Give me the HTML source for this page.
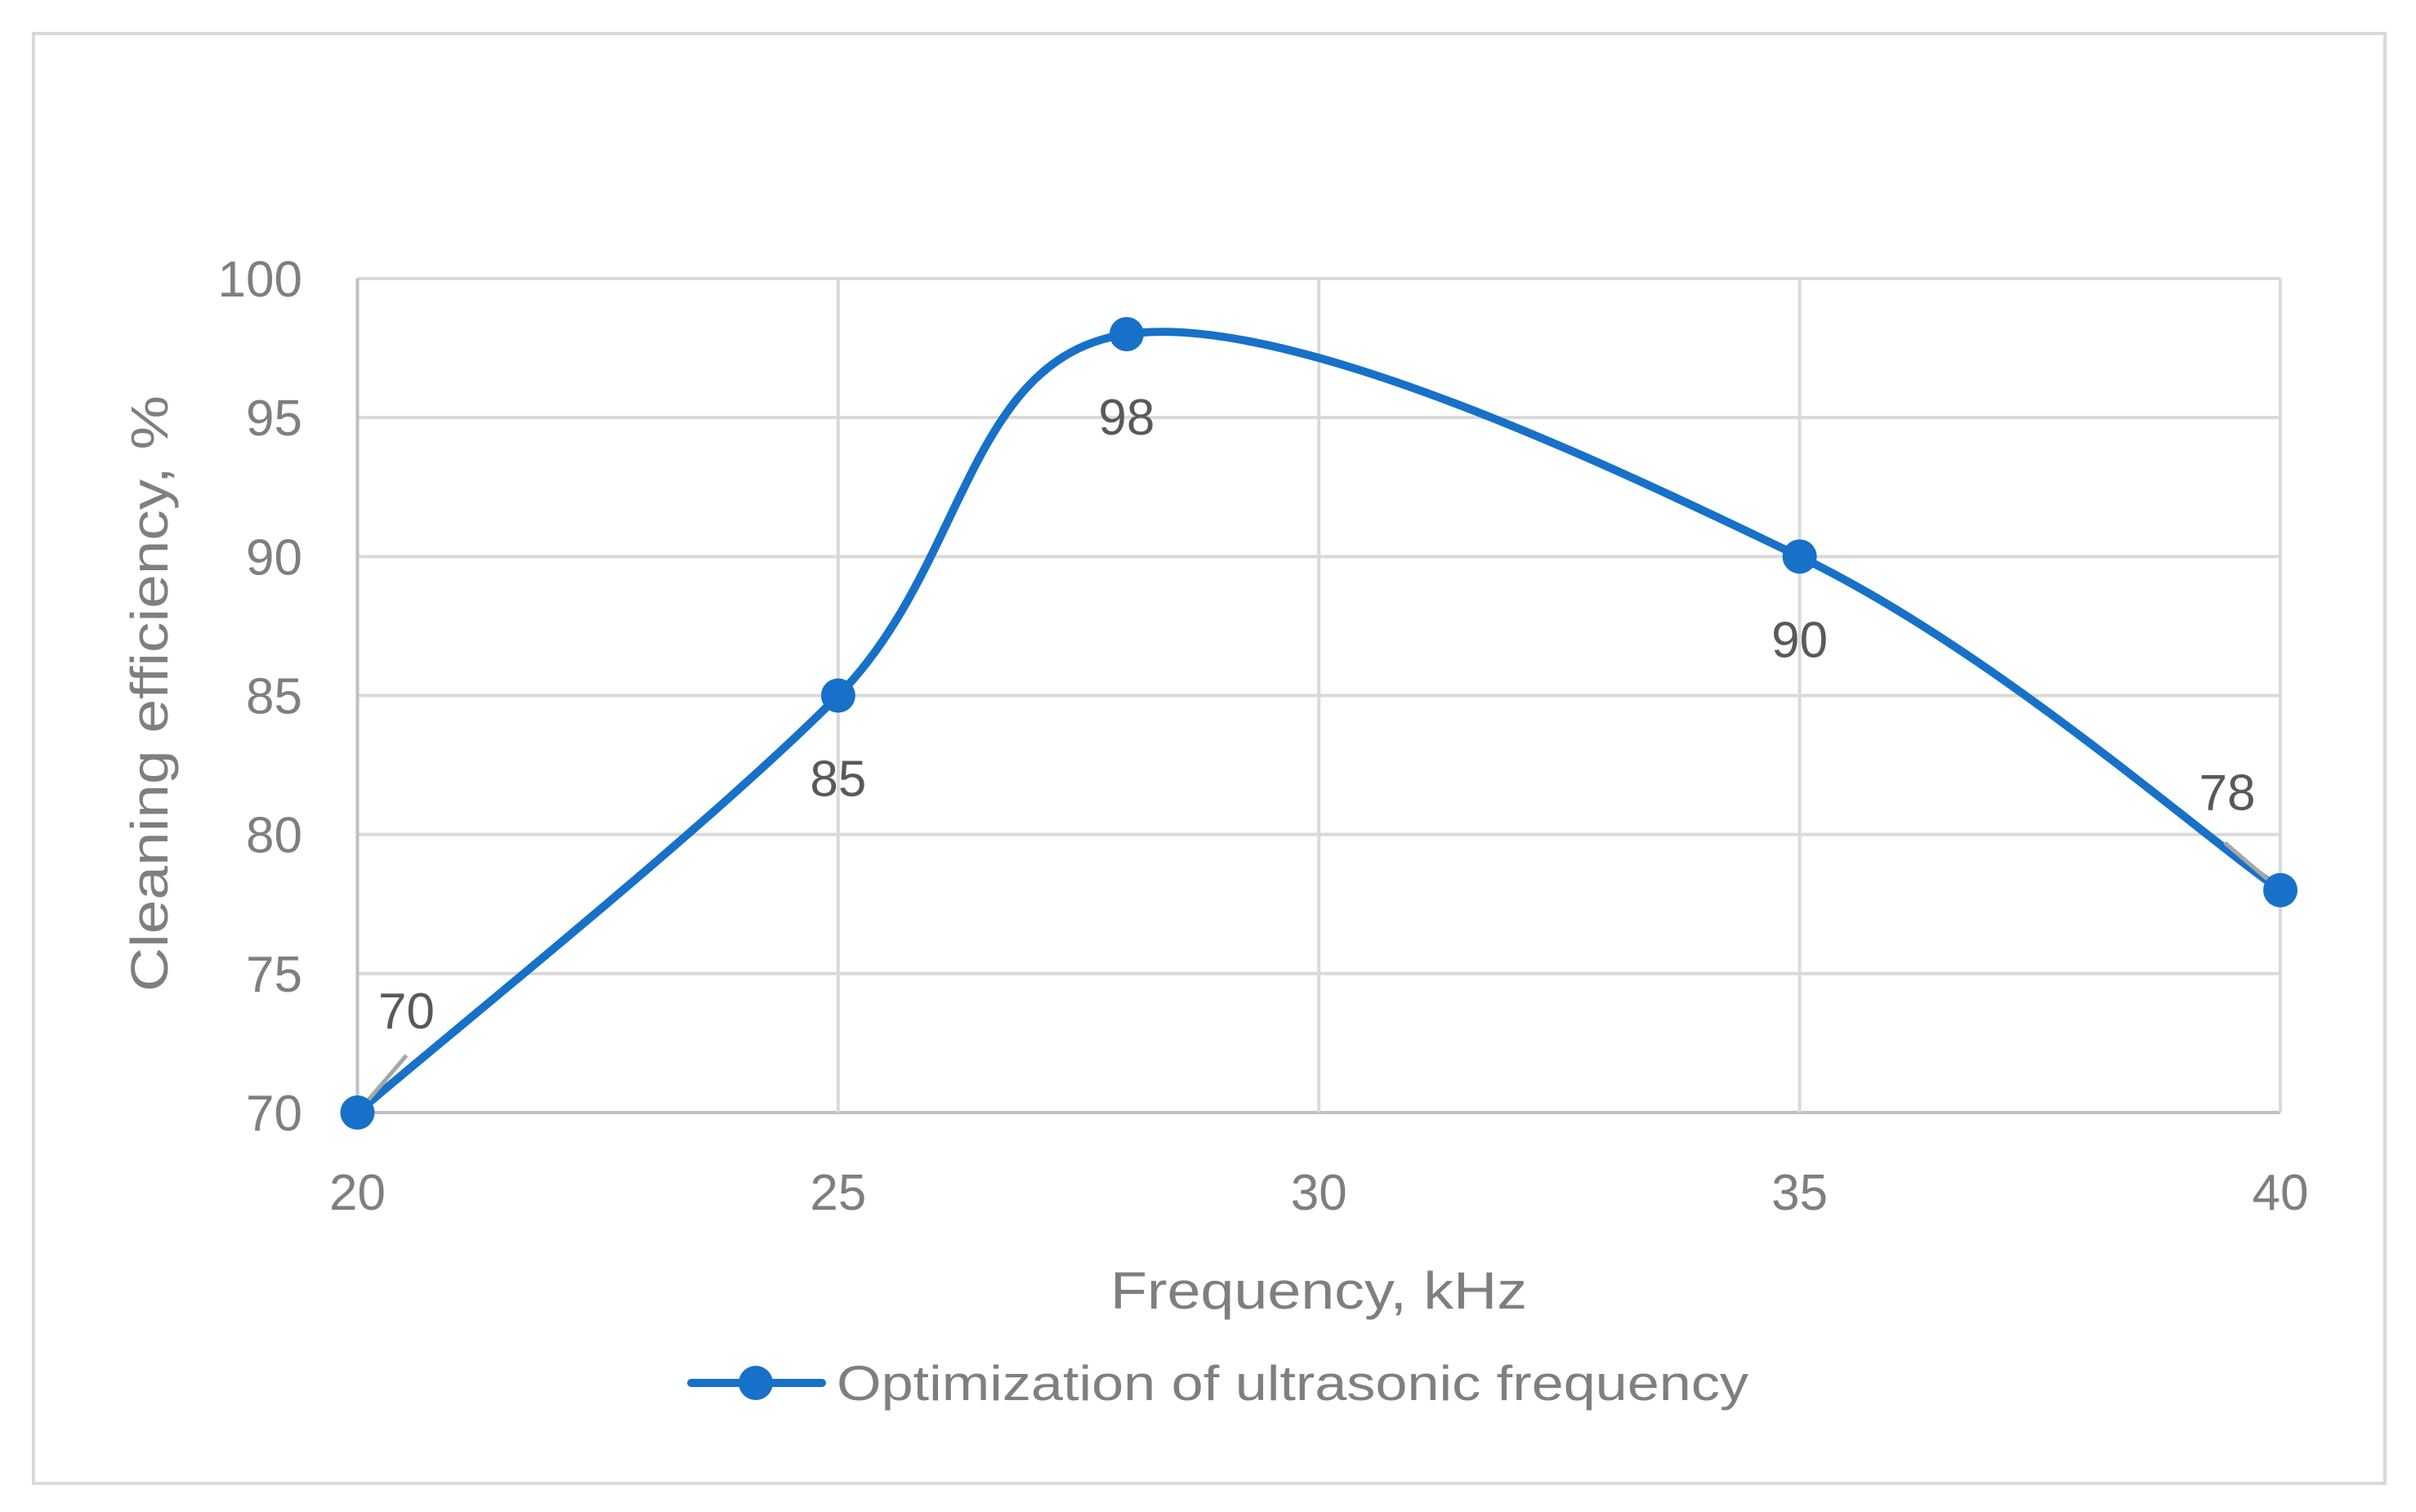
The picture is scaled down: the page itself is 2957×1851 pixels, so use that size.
<!DOCTYPE html>
<html><head><meta charset="utf-8"><style>
html,body{margin:0;padding:0;background:#fff;}
svg{display:block;font-family:"Liberation Sans",sans-serif;}
</style></head><body>
<svg id="chart" width="2957" height="1851" viewBox="0 0 2957 1851" xmlns="http://www.w3.org/2000/svg">
<rect x="41" y="41" width="2878" height="1775" fill="#fff" stroke="#d9d9d9" stroke-width="4"/>
<g id="grid"></g>
<g id="series"></g>
<g id="labels"></g>
<text x="1614" y="1602" font-size="64" fill="#7f7f7f" text-anchor="middle" textLength="510" lengthAdjust="spacingAndGlyphs">Frequency, kHz</text>
<text x="0" y="0" font-size="64" fill="#7f7f7f" text-anchor="middle" transform="translate(205,849) rotate(-90)" textLength="730" lengthAdjust="spacingAndGlyphs">Cleaning efficiency, %</text>
<g>
<line x1="846" y1="1693" x2="1006" y2="1693" stroke="#1771c8" stroke-width="10" stroke-linecap="round"/>
<circle cx="925" cy="1693" r="21" fill="#1771c8"/>
<text x="1024" y="1714" font-size="60" fill="#7f7f7f" textLength="1116" lengthAdjust="spacingAndGlyphs">Optimization of ultrasonic frequency</text>
</g>
</svg>
<script>
const xValues = [20, 25, 28, 35, 40];
const yValues = [70, 85, 98, 90, 78];
const xTicks = [20, 25, 30, 35, 40];
const yTicks = [70, 75, 80, 85, 90, 95, 100];

const NS = "http://www.w3.org/2000/svg";
const L = 437.5, R = 2791, T = 341, B = 1362;
const xMin = 20, xMax = 40, yMin = 70, yMax = 100;
function sx(v){ return L + (v - xMin) / (xMax - xMin) * (R - L); }
function sy(v){ return B - (v - yMin) / (yMax - yMin) * (B - T); }
function mk(tag, attrs, parent){
  const e = document.createElementNS(NS, tag);
  for (const k in attrs) e.setAttribute(k, attrs[k]);
  parent.appendChild(e);
  return e;
}
const grid = document.getElementById('grid');
const series = document.getElementById('series');
const labels = document.getElementById('labels');

yTicks.forEach(t => {
  const ln = mk('line', {x1: L, x2: R, y1: sy(t), y2: sy(t), stroke: t === yMin ? '#bfbfbf' : '#d9d9d9', 'stroke-width': 4}, grid);
  
  
  const tx = mk('text', {x: 370, y: sy(t) + 22, 'font-size': 62, fill: '#7f7f7f', 'text-anchor': 'end'}, labels);
  tx.textContent = t;
  
  
});
xTicks.forEach(t => {
  const ln = mk('line', {x1: sx(t), x2: sx(t), y1: T, y2: B, stroke: t === xMin ? '#bfbfbf' : '#d9d9d9', 'stroke-width': 4}, grid);
  
  
  const tx = mk('text', {x: sx(t), y: 1481, 'font-size': 62, fill: '#7f7f7f', 'text-anchor': 'middle'}, labels);
  tx.textContent = t;
  
  
});

const pts = xValues.map((x, i) => [sx(x), sy(yValues[i])]);
let d = 'M' + pts[0][0] + ',' + pts[0][1];
for (let i = 0; i < pts.length - 1; i++){
  const p0 = pts[Math.max(0, i - 1)], p1 = pts[i], p2 = pts[i + 1], p3 = pts[Math.min(pts.length - 1, i + 2)];
  const c1 = [p1[0] + (p2[0] - p0[0]) / 6, p1[1] + (p2[1] - p0[1]) / 6];
  const c2 = [p2[0] - (p3[0] - p1[0]) / 6, p2[1] - (p3[1] - p1[1]) / 6];
  d += ' C' + c1[0] + ',' + c1[1] + ' ' + c2[0] + ',' + c2[1] + ' ' + p2[0] + ',' + p2[1];
}
const path = mk('path', {d: d, fill: 'none', stroke: '#1771c8', 'stroke-width': 10, 'stroke-linejoin': 'round'}, series);



const l1 = mk('line', {x1: sx(xValues[0]), y1: sy(yValues[0]), x2: sx(xValues[0]) + 60, y2: sy(yValues[0]) - 70, stroke: '#a6a6a6', 'stroke-width': 5}, series);


const n = xValues.length - 1;
const l2 = mk('line', {x1: sx(xValues[n]), y1: sy(yValues[n]), x2: sx(xValues[n]) - 68, y2: sy(yValues[n]) - 58, stroke: '#a6a6a6', 'stroke-width': 5}, series);



const offs = [[60, -103], [0, 123], [0, 123], [0, 123], [-65, -98]];
xValues.forEach((x, i) => {
  const c = mk('circle', {cx: sx(x), cy: sy(yValues[i]), r: 21, fill: '#1771c8'}, series);
  
  
  const t = mk('text', {x: sx(x) + offs[i][0], y: sy(yValues[i]) + offs[i][1], 'font-size': 62, fill: '#595959', 'text-anchor': 'middle'}, labels);
  t.textContent = yValues[i];
  
  
});
</script>
</body></html>
